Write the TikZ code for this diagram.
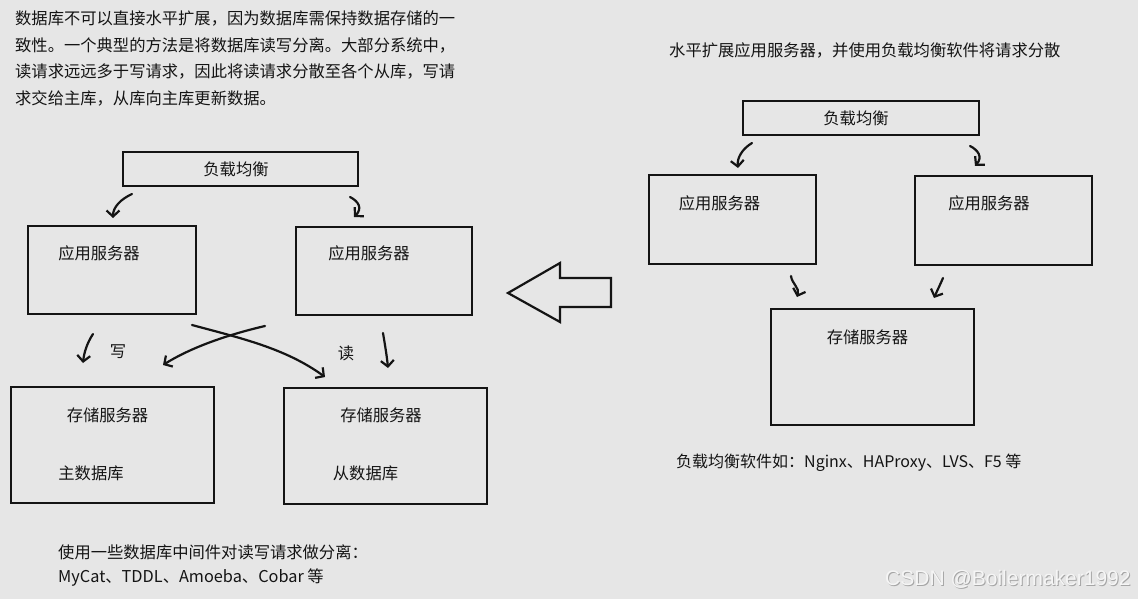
\documentclass[tikz,border=0pt]{standalone}
\usepackage{fontspec}
\setmainfont{Noto Sans CJK SC}
\newfontfamily\wmfont{Liberation Sans}
\usetikzlibrary{arrows.meta}
\definecolor{paper}{RGB}{230,230,230}
\definecolor{ink}{RGB}{20,20,20}
\tikzset{
  box/.style={draw=ink, line width=2.2pt, inner sep=0pt},
  hand/.style={draw=ink, line width=2.2pt, line cap=round, line join=round,
    -{Straight Barb[length=6pt,width=13pt]}},
  lbl/.style={inner sep=0pt, text=ink, font=\fontsize{16.3}{20}\selectfont},
}
\begin{document}
\begin{tikzpicture}[x=1pt,y=-1pt]
\fill[paper] (0,0) rectangle (1138,599);
\useasboundingbox (0,0) rectangle (1138,599);

% intro text
\foreach \txt [count=\i] in {数据库不可以直接水平扩展，因为数据库需保持数据存储的一,
  致性。一个典型的方法是将数据库读写分离。大部分系统中，,
  读请求远远多于写请求，因此将读请求分散至各个从库，写请,
  求交给主库，从库向主库更新数据。}
  \node[lbl, anchor=west] (intro\i) at (15,{18.3+26.7*(\i-1)}) {\txt};

% left: read/write split
\node[box, minimum width=235pt, minimum height=34pt] (lbL) at (240.5,169) {};
\node[lbl] (lbLt) at (236,169) {负载均衡};
\node[box, minimum width=168pt, minimum height=88pt] (appA) at (112,270) {};
\node[lbl] (appAt) at (99,253) {应用服务器};
\node[box, minimum width=176pt, minimum height=88pt] (appB) at (384,271) {};
\node[lbl] (appBt) at (369,253) {应用服务器};
\node[box, minimum width=203pt, minimum height=116pt] (dbM) at (112.5,445) {};
\node[lbl] (dbMt) at (107.5,415) {存储服务器};
\node[lbl] (dbMn) at (91,473) {主数据库};
\node[box, minimum width=203pt, minimum height=116pt] (dbS) at (385.5,446) {};
\node[lbl] (dbSt) at (381,415) {存储服务器};
\node[lbl] (dbSn) at (365.5,473) {从数据库};
\node[lbl] (wr) at (118,352) {写};
\node[lbl] (rd) at (346,353) {读};

\coordinate (a1) at (132,194); \coordinate (a2) at (113,218);
\draw[hand] (a1) .. controls (121,199) and (113,207) .. (a2);
\coordinate (b1) at (350,197); \coordinate (b2) at (354,217);
\draw[hand] (b1) .. controls (358,201) and (363,208) .. (b2);
\coordinate (w1) at (93,334); \coordinate (w2) at (83,363);
\draw[hand] (w1) .. controls (87,343) and (84,353) .. (w2);
\coordinate (r1) at (383,333); \coordinate (r2) at (388,368);
\draw[hand] (r1) .. controls (385,345) and (387,357) .. (r2);
\coordinate (x1) at (192,325); \coordinate (x2) at (325,377);
\draw[hand] (x1) .. controls (240,338) and (285,348) .. (x2);
\coordinate (y1) at (265,326); \coordinate (y2) at (163,365);
\draw[hand] (y1) .. controls (235,333) and (195,345) .. (y2);

% hollow arrow
\draw[ink, line width=2.2pt, line join=miter]
  (508,293) -- (560,263) -- (560,278) -- (611,278) -- (611,307)
  -- (560,307) -- (560,322) -- cycle;

% right: scale out application servers
\node[lbl, anchor=west] (title) at (669,50)
  {水平扩展应用服务器，并使用负载均衡软件将请求分散};
\node[box, minimum width=236pt, minimum height=34pt] (lbR) at (861,118) {};
\node[lbl] (lbRt) at (856,118) {负载均衡};
\node[box, minimum width=167pt, minimum height=89pt] (appC) at (732.5,219.5) {};
\node[lbl] (appCt) at (719.5,203) {应用服务器};
\node[box, minimum width=177pt, minimum height=89pt] (appD) at (1003.5,220.5) {};
\node[lbl] (appDt) at (989,203) {应用服务器};
\node[box, minimum width=203pt, minimum height=116pt] (store) at (872.5,367) {};
\node[lbl] (storet) at (867.5,337) {存储服务器};

\coordinate (c1) at (752,143); \coordinate (c2) at (738,168);
\draw[hand] (c1) .. controls (742,149) and (737,158) .. (c2);
\coordinate (d1) at (970,146); \coordinate (d2) at (975,166);
\draw[hand] (d1) .. controls (978,150) and (983,157) .. (d2);
\coordinate (e1) at (791,276); \coordinate (e2) at (797,297);
\draw[hand] (e1) .. controls (792,284) and (800,288) .. (e2);
\coordinate (f1) at (943,278); \coordinate (f2) at (934,298);
\draw[hand] (f1) .. controls (940,285) and (937,291) .. (f2);

% notes
\node[lbl, anchor=west] (noteL1) at (58,552) {使用一些数据库中间件对读写请求做分离：};
\node[lbl, anchor=west] (noteL2) at (58,578) {MyCat、TDDL、Amoeba、Cobar 等};
\node[lbl, font=\fontsize{16}{20}\selectfont, anchor=west] (noteR) at (676,463)
  {负载均衡软件如：Nginx、HAProxy、LVS、F5 等};

% watermark
\node[inner sep=0pt, anchor=west, text=black!35, font=\wmfont\fontsize{21}{24}\selectfont]
  (wmS) at (886,580) {CSDN @Boilermaker1992};
\node[inner sep=0pt, anchor=west, text=white!96!black, font=\wmfont\fontsize{21}{24}\selectfont]
  (wm) at (885,579) {CSDN @Boilermaker1992};
\end{tikzpicture}
\end{document}
